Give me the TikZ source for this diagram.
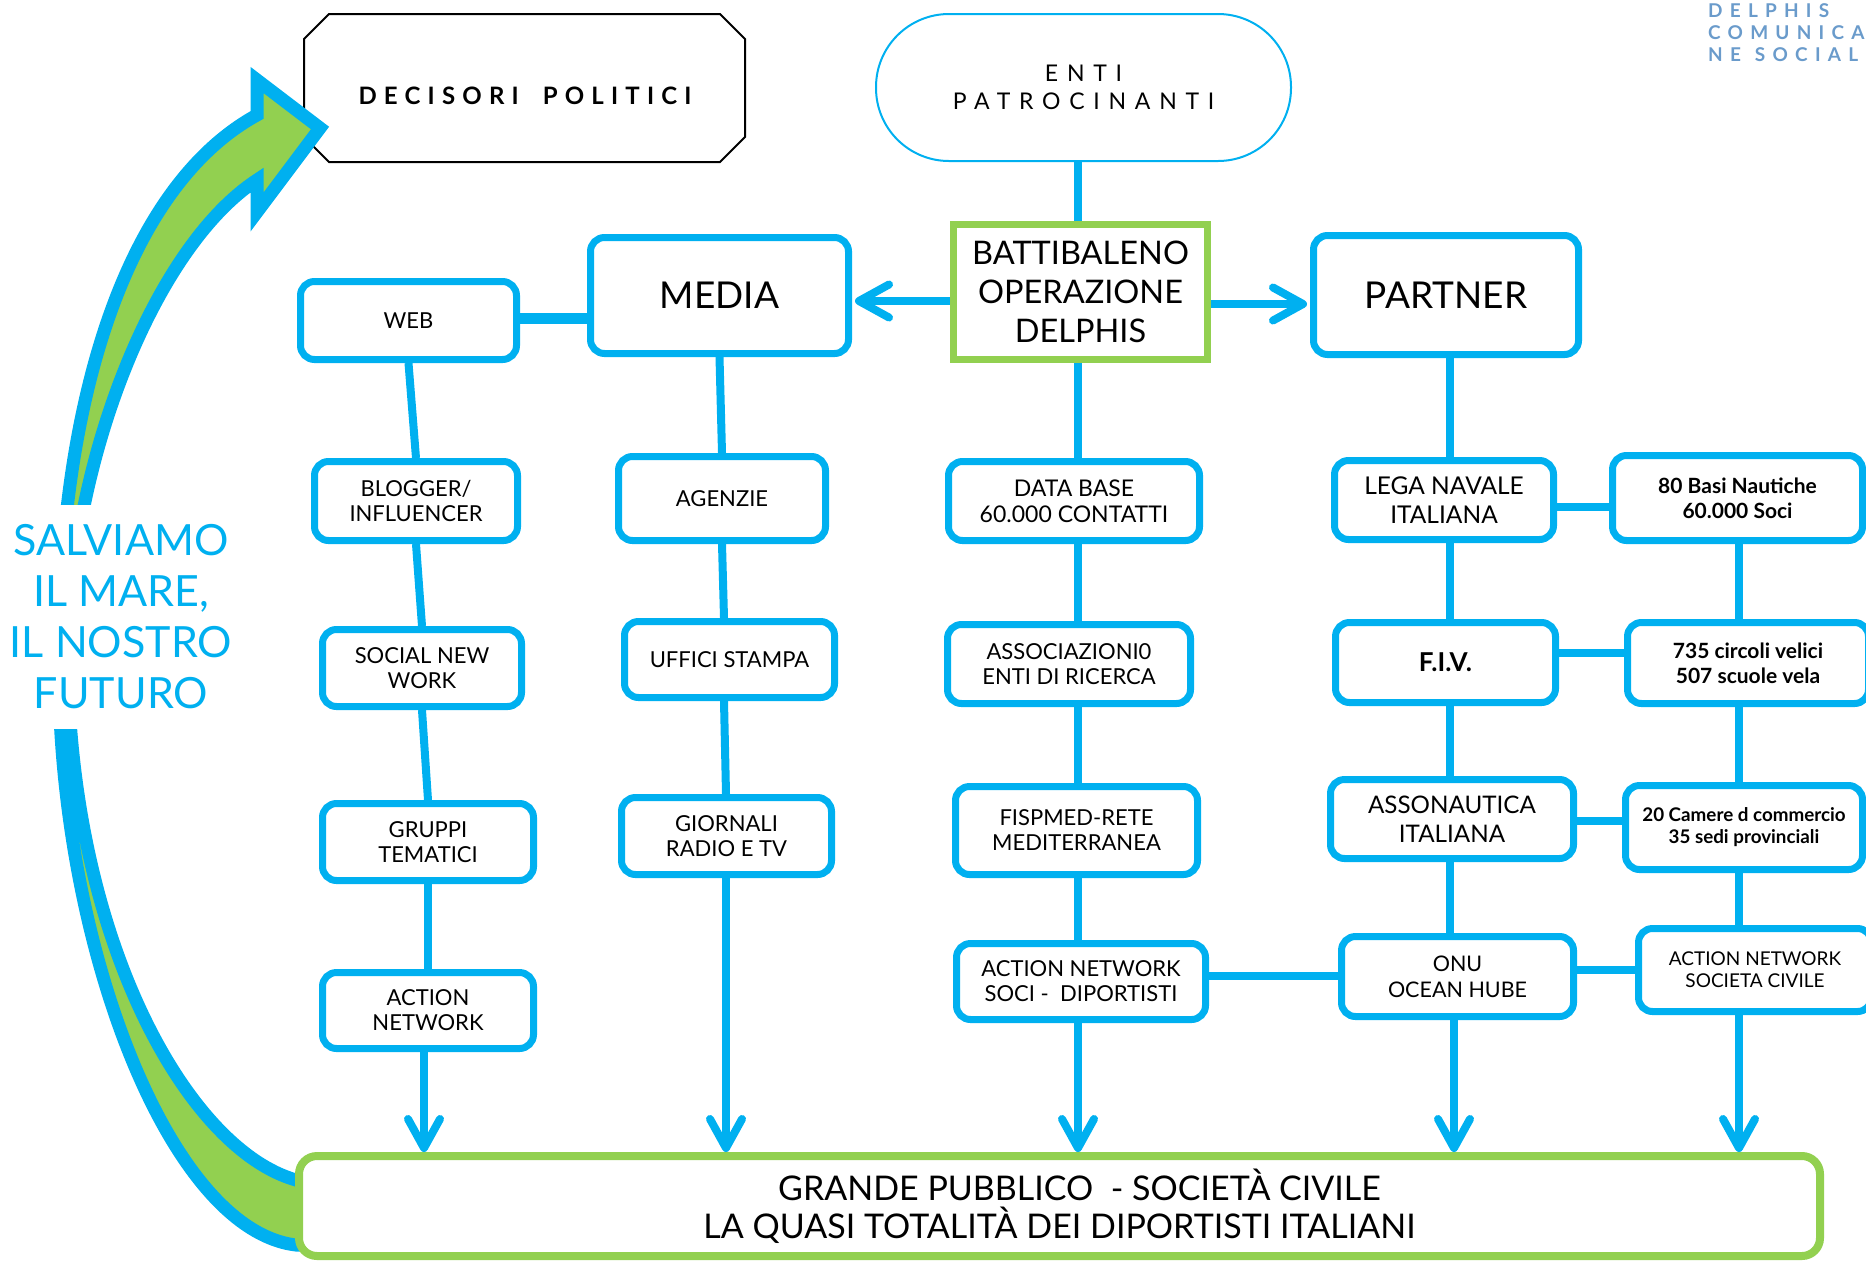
\documentclass[tikz,border=0pt]{standalone}
\usepackage{fontspec}
\setmainfont{Lato}
\newfontfamily\spacedfont[LetterSpace=30]{Lato}
\newfontfamily\entifont[LetterSpace=38]{Lato}
\newfontfamily\logofont[LetterSpace=38]{Lato}
\usetikzlibrary{arrows.meta,calc}
\definecolor{cblue}{HTML}{00B0F0}
\definecolor{cgreen}{HTML}{92D050}
\definecolor{logoblue}{HTML}{6A9BCB}
\begin{document}
\begin{tikzpicture}[x=1pt,y=-1pt,
  box/.style={draw=cblue, line width=7pt, rounded corners=14pt, fill=white, align=center, inner sep=0pt, font=\fontsize{22pt}{25pt}\selectfont},
  bigbox/.style={box, font=\fontsize{37pt}{44pt}\selectfont},
  boldbox/.style={box, font=\fontsize{21pt}{25pt}\selectfont\bfseries},
  link/.style={draw=cblue, line width=8pt},
  arr/.style={link, -{Straight Barb[round, length=29pt, width=32pt]}},
  harr/.style={link, -{Straight Barb[round, length=30pt, width=33pt]}}
]
\useasboundingbox (0,0) rectangle (1866,1262);
\clip (0,0) rectangle (1866,1262);

% decision makers box
\coordinate (decc) at (524.5,88);
\node[inner sep=0pt, font=\spacedfont\bfseries\fontsize{24pt}{28pt}\selectfont] (dec) at (525,96) {DECISORI\hspace{24pt}POLITICI};
\draw[line width=2pt, line join=miter]
  ($(decc)+(-195.5,-74)$) -- ($(decc)+(195.5,-74)$) -- ($(decc)+(220.5,-49)$)
  -- ($(decc)+(220.5,49)$) -- ($(decc)+(195.5,74)$) -- ($(decc)+(-195.5,74)$)
  -- ($(decc)+(-220.5,49)$) -- ($(decc)+(-220.5,-49)$) -- cycle;

% big curved arrow
\draw[draw=cblue, fill=cgreen, line width=13pt, line join=miter]
  (305,1180) -- (296,1180) .. controls (190,1150) and (76,950) .. (68,680)
  .. controls (62,480) and (150,250) .. (257,180)
  -- (257,212) -- (320,128) -- (257,80) -- (257,115)
  .. controls (120,190) and (55,420) .. (59,680)
  .. controls (62,950) and (170,1230) .. (296,1245) -- (305,1245) -- cycle;

% slogan
\node[fill=white, text=cblue, align=center, inner sep=0pt, minimum width=232pt, minimum height=224pt,
      font=\fontsize{43pt}{51pt}\selectfont] (slogan) at (121,617) {SALVIAMO\\IL MARE,\\IL NOSTRO\\FUTURO};

% logo
\node[anchor=north west, inner sep=0pt, text=logoblue, align=left,
      font=\logofont\bfseries\fontsize{19pt}{22pt}\selectfont] (logo) at (1708,3) {DELPHIS\\COMUNICA\\NE\kern14pt SOCIAL};

% top nodes
\node[draw=cblue, line width=2pt, rounded corners=73pt, minimum width=415pt, minimum height=147pt,
      align=center, inner sep=0pt, font=\entifont\fontsize{23pt}{28pt}\selectfont] (enti) at (1083.5,87.5) {ENTI\\PATROCINANTI};
\node[draw=cgreen, line width=7.5pt, fill=white, minimum width=254pt, minimum height=135pt, inner sep=0pt,
      align=center, font=\fontsize{32.5pt}{39pt}\selectfont] (batt) at (1080.5,292) {BATTIBALENO\\OPERAZIONE\\DELPHIS};
\node[bigbox, minimum width=258pt, minimum height=116pt] (media) at (719.5,295.5) {MEDIA};
\node[bigbox, minimum width=265pt, minimum height=119pt] (partner) at (1446,295) {PARTNER};

% left column
\node[box, minimum width=216pt, minimum height=78pt] (web) at (408.5,320.5) {WEB};
\node[box, minimum width=203pt, minimum height=79pt] (blog) at (416,501) {BLOGGER/\\INFLUENCER};
\node[box, minimum width=199pt, minimum height=77pt] (soc) at (422,668) {SOCIAL NEW\\WORK};
\node[box, minimum width=211pt, minimum height=77pt] (grup) at (428,842) {GRUPPI\\TEMATICI};
\node[box, minimum width=211pt, minimum height=76pt] (actn) at (428,1010.5) {ACTION\\NETWORK};

% media column
\node[box, minimum width=207pt, minimum height=84pt] (agen) at (722,498.5) {AGENZIE};
\node[box, minimum width=210pt, minimum height=76pt] (uff) at (729.5,659.5) {UFFICI STAMPA};
\node[box, minimum width=210pt, minimum height=77pt] (gior) at (726.5,836) {GIORNALI\\RADIO E TV};

% centre column
\node[box, minimum width=251pt, minimum height=79pt, font=\fontsize{23pt}{26pt}\selectfont] (data) at (1074,501) {DATA BASE\\60.000 CONTATTI};
\node[box, minimum width=243pt, minimum height=79pt] (assoc) at (1069,664) {ASSOCIAZIONI0\\ENTI DI RICERCA};
\node[box, minimum width=242pt, minimum height=88pt] (fisp) at (1076.5,830.5) {FISPMED-RETE\\MEDITERRANEA};
\node[box, minimum width=249pt, minimum height=76pt] (acts) at (1081,981.5) {ACTION NETWORK\\SOCI -\ \ DIPORTISTI};

% partner column
\node[box, minimum width=219pt, minimum height=79pt, font=\fontsize{24.5pt}{28.5pt}\selectfont] (lega) at (1444,500) {LEGA NAVALE\\ITALIANA};
\node[box, minimum width=220pt, minimum height=80pt, font=\fontsize{26pt}{28pt}\selectfont\bfseries] (fiv) at (1445.5,662.5) {F.I.V.};
\node[box, minimum width=243pt, minimum height=79pt, font=\fontsize{24.2pt}{28.5pt}\selectfont] (asso) at (1452,819) {ASSONAUTICA\\ITALIANA};
\node[box, minimum width=232pt, minimum height=80pt, font=\fontsize{21.5pt}{26pt}\selectfont] (onu) at (1457.5,976.5) {ONU\\OCEAN HUBE};

% right column
\node[boldbox, minimum width=250pt, minimum height=85pt] (basi) at (1737.5,498) {80 Basi Nautiche\\60.000 Soci};
\node[boldbox, minimum width=241pt, minimum height=81pt] (circ) at (1748,663) {735 circoli velici\\507 scuole vela};
\node[box, minimum width=237pt, minimum height=84pt, font=\fontsize{18.8pt}{22pt}\selectfont\bfseries] (cam) at (1744,827.5) {20 Camere d commercio\\35 sedi provinciali};
\node[box, minimum width=233pt, minimum height=83pt, font=\fontsize{19pt}{22pt}\selectfont] (acsc) at (1755,970) {ACTION NETWORK\\SOCIETA CIVILE};

% bottom box
\node[draw=cgreen, line width=8pt, rounded corners=18pt, fill=white, minimum width=1521pt, minimum height=100pt,
      inner sep=0pt, align=center, font=\fontsize{34pt}{38pt}\selectfont] (gp) at (1059.5,1206)
      {\hspace*{40pt}GRANDE PUBBLICO\ \ - SOCIETÀ CIVILE\\LA QUASI TOTALITÀ DEI DIPORTISTI ITALIANI};

% helper coordinates
\coordinate (lx) at (424,0);
\coordinate (cx) at (1078,0);
\coordinate (mx) at (722,0);
\coordinate (px) at (1450,0);
\coordinate (pax) at (1454,0);
\coordinate (rx) at (1739,0);
\coordinate (wy) at (0,318);
\coordinate (ay1) at (0,301);
\coordinate (ay2) at (0,304);
\coordinate (h1) at (0,507);
\coordinate (h2) at (0,653);
\coordinate (h3) at (0,821);
\coordinate (h4) at (0,970);
\coordinate (h5) at (0,976);
\coordinate (mtip) at ($(media.east)+(3,0)$);
\coordinate (ptip) at ($(partner.west)+(-3,0)$);

% connectors
\draw[link] (enti.south -| cx) -- (batt.north -| cx);
\draw[harr] (batt.west |- ay1) -- (mtip |- ay1);
\draw[harr] (batt.east |- ay2) -- (ptip |- ay2);
\draw[draw=cblue, line width=11pt] (web.east |- wy) -- (media.west |- wy);

\draw[link] (web.south) -- (blog.north);
\draw[link] (blog.south) -- (soc.north);
\draw[link] (soc.south) -- (grup.north);
\draw[link] (grup.south) -- (actn.north);
\draw[arr] (actn.south -| lx) -- (gp.north -| lx);

\coordinate (mx2) at (724,0);
\coordinate (mx3) at (726,0);
\draw[link] (media.south) -- (agen.north -| mx);
\draw[link] (agen.south -| mx) -- (uff.north -| mx2);
\draw[link] (uff.south -| mx2) -- (gior.north -| mx3);
\draw[arr] (gior.south -| mx3) -- (gp.north -| mx3);

\draw[link] (batt.south -| cx) -- (data.north -| cx);
\draw[link] (data.south -| cx) -- (assoc.north -| cx);
\draw[link] (assoc.south -| cx) -- (fisp.north -| cx);
\draw[link] (fisp.south -| cx) -- (acts.north -| cx);
\draw[arr] (acts.south -| cx) -- (gp.north -| cx);

\draw[link] (partner.south -| px) -- (lega.north -| px);
\draw[link] (lega.south -| px) -- (fiv.north -| px);
\draw[link] (fiv.south -| px) -- (asso.north -| px);
\draw[link] (asso.south -| px) -- (onu.north -| px);
\draw[arr] (onu.south -| pax) -- (gp.north -| pax);

\draw[link] (basi.south -| rx) -- (circ.north -| rx);
\draw[link] (circ.south -| rx) -- (cam.north -| rx);
\draw[link] (cam.south -| rx) -- (acsc.north -| rx);
\draw[arr] (acsc.south -| rx) -- (gp.north -| rx);

\draw[link] (lega.east |- h1) -- (basi.west |- h1);
\draw[link] (fiv.east |- h2) -- (circ.west |- h2);
\draw[link] (asso.east |- h3) -- (cam.west |- h3);
\draw[link] (onu.east |- h4) -- (acsc.west |- h4);
\draw[link] (acts.east |- h5) -- (onu.west |- h5);
\end{tikzpicture}
\end{document}
